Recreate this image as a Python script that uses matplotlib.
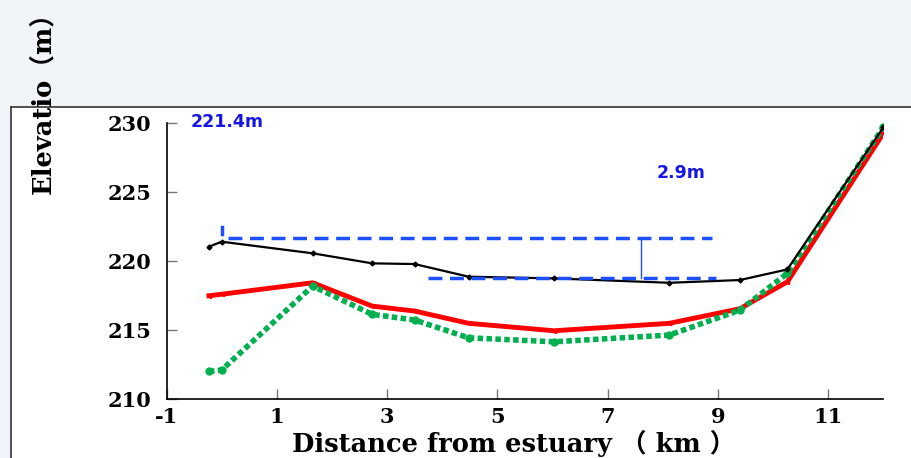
import numpy as np
import matplotlib.pyplot as plt
from matplotlib.patches import Rectangle

plt.rcParams['axes.unicode_minus'] = False

# distance from estuary (km) of the survey points
dist = [-0.23, 0.0, 1.65, 2.73, 3.5, 4.48, 6.03, 8.12, 9.4, 10.26, 12.0]

# bed elevation (m) of the three profiles
black_elev = [221.05, 221.41, 220.57, 219.84, 219.79, 218.87, 218.75, 218.43, 218.63, 219.4, 229.7]
red_elev = [217.49, 217.6, 218.43, 216.74, 216.38, 215.49, 214.95, 215.49, 216.55, 218.5, 229.27]
green_elev = [212.0, 212.1, 218.19, 216.14, 215.73, 214.44, 214.15, 214.64, 216.45, 219.11, 229.71]

# reference levels marked on the chart
upper_level = 221.7
lower_level = 218.8
upper_span = [0.12, 8.9]
lower_span = [3.74, 8.96]
diff_x = 7.6

xticks = [-1, 1, 3, 5, 7, 9, 11]
yticks = [210, 215, 220, 225, 230]

serif = ['DejaVu Serif', 'Noto Sans CJK SC']

fig = plt.figure(figsize=(9.11, 4.58), dpi=100)
fig.patch.set_facecolor('#f1f4f8')

# white slide panel with dark border on top and left
fig.patches.append(Rectangle((11 / 911, 0), 1, 1 - 107 / 458, transform=fig.transFigure,
                             facecolor='white', edgecolor='none', zorder=-5))
fig.add_artist(plt.Line2D([11 / 911, 1], [1 - 107 / 458] * 2, transform=fig.transFigure,
                          color='#333333', lw=1.2, zorder=-4))
fig.add_artist(plt.Line2D([11 / 911] * 2, [0, 1 - 107 / 458], transform=fig.transFigure,
                          color='#333333', lw=1.2, zorder=-4))

ax = fig.add_axes([166.5 / 911, 1 - 399 / 458, (883.3 - 166.5) / 911, (399 - 123.3) / 458])
ax.set_facecolor('none')

ax.plot(dist, green_elev, color='#00b050', lw=4, ls=(0, (1, 0.6)), marker='o', ms=5, zorder=3)
ax.plot(dist, red_elev, color='#ff0000', lw=3.5, marker='<', ms=3, zorder=2)
ax.plot(dist, black_elev, color='black', lw=1.6, marker='D', ms=2.5, zorder=4)

# blue reference lines
ax.plot(upper_span, [upper_level] * 2, color='#1e4fff', lw=2.5, ls=(0, (4, 2.2)), zorder=5)
ax.plot(lower_span, [lower_level] * 2, color='#1e4fff', lw=2.5, ls=(0, (4, 2.2)), zorder=5)
ax.plot([diff_x, diff_x], [lower_level, upper_level], color='#1e4fff', lw=1, zorder=5)
ax.plot([0.0, 0.0], [222.0, 222.45], color='#1e4fff', lw=2.5, zorder=5)

ax.text(-0.57, 230.1, '221.4m', color='#1515e6', fontsize=12.5, fontweight='bold',
        ha='left', va='center', family='DejaVu Sans')
ax.text(8.33, 226.4, '2.9m', color='#1515e6', fontsize=12.5, fontweight='bold',
        ha='center', va='center', family='DejaVu Sans')

ax.set_xlim(-1, 12)
ax.set_ylim(210, 230)
ax.set_xticks(xticks)
ax.set_yticks(yticks)
ax.spines['top'].set_visible(False)
ax.spines['right'].set_visible(False)
ax.spines['left'].set_linewidth(1.2)
ax.spines['bottom'].set_linewidth(1.2)
ax.tick_params(direction='in', length=7, width=1, color='#777777')
ax.tick_params(axis='y', pad=11)
ax.tick_params(axis='x', pad=5.5)
for lab in ax.get_xticklabels() + ax.get_yticklabels():
    lab.set_family(serif)
    lab.set_fontweight('bold')
    lab.set_fontsize(15)

fig.text(514 / 911, 1 - 443 / 458, 'Distance from estuary （ km ）', family=serif,
         fontweight='bold', fontsize=18.5, ha='center', va='center')
fig.text(43 / 911, 1 - 96 / 458, 'Elevatio（m）', family=serif,
         fontweight='bold', fontsize=18.5, ha='center', va='center', rotation=90)

fig.savefig('out.png', dpi=100, facecolor=fig.get_facecolor())
